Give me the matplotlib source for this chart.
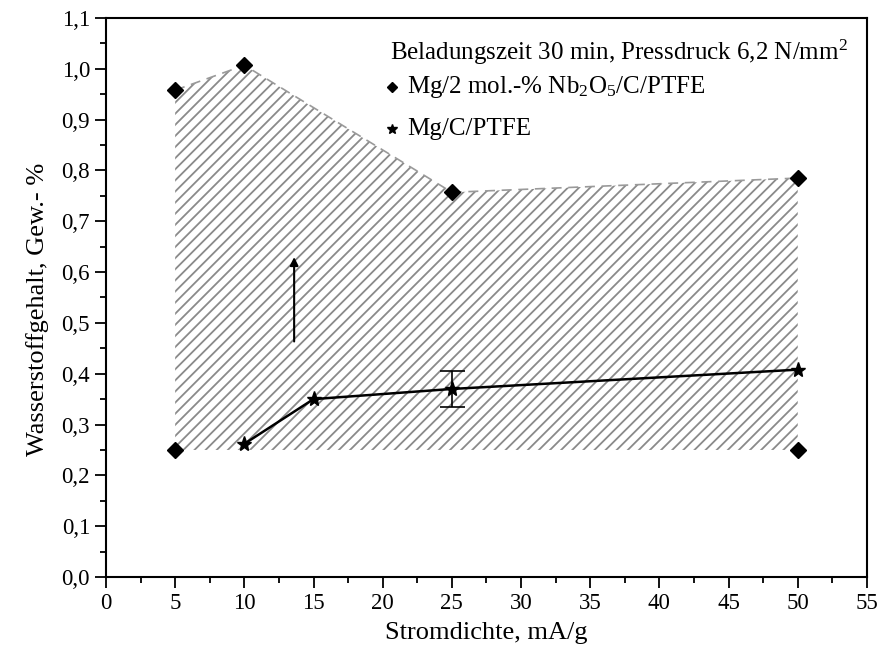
import numpy as np
import matplotlib.pyplot as plt
from matplotlib.ticker import MultipleLocator, FuncFormatter

# Daten
x_nb = [5, 10, 25, 50]
y_nb_oben = [0.958, 1.007, 0.757, 0.785]
x_nb_unten = [5, 50]
y_nb_unten = [0.25, 0.25]

x_c = [10, 15, 25, 50]
y_c = [0.262, 0.35, 0.37, 0.408]
# Fehlerbalken nur bei 25 mA/g
x_err = [25]
y_err = [0.37]
err_c = [0.035]

unterkante = 0.25

plt.rcParams['font.family'] = ['Liberation Serif', 'DejaVu Serif']
plt.rcParams['mathtext.fontset'] = 'custom'
plt.rcParams['mathtext.rm'] = 'Liberation Serif'
plt.rcParams['mathtext.it'] = 'Liberation Serif:italic'
plt.rcParams['hatch.linewidth'] = 1.3

fig = plt.figure(figsize=(8.81, 6.57), dpi=100)
ax = fig.add_axes([0.1203, 0.1218, 0.8637, 0.8508])

# schraffierter Bereich
ax.fill_between(x_nb, unterkante, y_nb_oben, facecolor='none',
                edgecolor='#8a8a8a', hatch='///', linewidth=0, zorder=1)
ax.plot(x_nb, y_nb_oben, color='#9a9a9a', linestyle=(0, (6, 4)), linewidth=1.2, zorder=2)

# Mg/2 mol.-% Nb2O5/C/PTFE
ax.plot(x_nb, y_nb_oben, linestyle='none', marker='D', markersize=8,
        color='black', zorder=4)
ax.plot(x_nb_unten, y_nb_unten, linestyle='none', marker='D', markersize=8,
        color='black', zorder=4)

# Mg/C/PTFE
ax.plot(x_c, y_c, color='black', linewidth=1.8, marker='*', markersize=11, zorder=5)
ax.errorbar(x_err, y_err, yerr=err_c, fmt='none', ecolor='black',
            capsize=9, elinewidth=1.2, capthick=1.2, zorder=5)

# Pfeil
ax.annotate('', xy=(13.6, 0.635), xytext=(13.6, 0.458),
            arrowprops=dict(arrowstyle='-|>', color='black', lw=1.5,
                            mutation_scale=12))

# Legende als Text
ax.text(0.373, 0.925, 'Beladungszeit 30 min, Pressdruck 6,2 N/mm$^2$',
        transform=ax.transAxes, fontsize=18, va='baseline')
ax.plot([0.376], [0.876], transform=ax.transAxes, marker='D', markersize=5.5,
        color='black', clip_on=False)
ax.text(0.3955, 0.866, 'Mg/2 mol.-% Nb$_2$O$_5$/C/PTFE',
        transform=ax.transAxes, fontsize=18, va='baseline')
ax.plot([0.376], [0.802], transform=ax.transAxes, marker='*', markersize=7,
        color='black', clip_on=False)
ax.text(0.3955, 0.791, 'Mg/C/PTFE', transform=ax.transAxes, fontsize=18,
        va='baseline')

ax.set_xlim(0, 55)
ax.set_ylim(0, 1.1)
ax.xaxis.set_major_locator(MultipleLocator(5))
ax.xaxis.set_minor_locator(MultipleLocator(2.5))
ax.yaxis.set_major_locator(MultipleLocator(0.1))
ax.yaxis.set_minor_locator(MultipleLocator(0.05))
ax.yaxis.set_major_formatter(FuncFormatter(lambda v, p: f'{v:.1f}'.replace('.', ',')))

ax.tick_params(which='major', direction='out', length=8, width=1.3, labelsize=16.5)
ax.tick_params(which='minor', direction='out', length=4, width=1.3)
for s in ax.spines.values():
    s.set_linewidth(1.5)

ax.set_xlabel('Stromdichte, mA/g', fontsize=19, labelpad=6)
ax.set_ylabel('Wasserstoffgehalt, Gew.- %', fontsize=19)
ax.yaxis.set_label_coords(-0.075, 0.478)

fig.savefig('out.png', dpi=100)
